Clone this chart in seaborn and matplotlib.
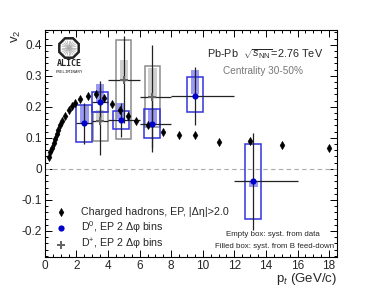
"""
D-meson v2 vs pt in Pb-Pb 30-50%, with charged hadron reference.
"""

import numpy as np
import pandas as pd
import matplotlib
matplotlib.use("Agg")
import matplotlib.pyplot as plt
import seaborn as sns
from matplotlib.patches import Rectangle, RegularPolygon
from matplotlib.ticker import MultipleLocator

# ── Data ──────────────────────────────────────────────────────────────────────
h_pt = [0.25, 0.35, 0.45, 0.55, 0.65, 0.75, 0.85, 0.95, 1.1, 1.3, 1.5, 1.7, 1.9,
        2.25, 2.75, 3.25, 3.75, 4.25, 4.75, 5.25, 5.75, 6.5, 7.5, 8.5, 9.5,
        11, 13, 15, 18]
h_v2 = [0.038, 0.053, 0.068, 0.083, 0.098, 0.113, 0.127, 0.14, 0.155, 0.172,
        0.19, 0.203, 0.213, 0.225, 0.236, 0.24, 0.228, 0.21, 0.19, 0.172,
        0.155, 0.14, 0.118, 0.109, 0.109, 0.088, 0.09, 0.077, 0.067]
h_err = [0.001] * 21 + [0.002, 0.003, 0.003, 0.004, 0.006, 0.007, 0.008, 0.009]

d0_pt = [2.5, 3.5, 4.8, 6.8, 9.5, 13.2]
d0_lo = [2, 3, 4, 6, 8, 12]
d0_hi = [3, 4, 6, 8, 12, 16]
d0_v2 = [0.147, 0.217, 0.158, 0.144, 0.236, -0.040]
d0_stat = [0.067, 0.065, 0.056, 0.09, 0.094, 0.157]
d0_sys_lo = [0.088, 0.185, 0.128, 0.099, 0.182, -0.160]
d0_sys_hi = [0.206, 0.247, 0.188, 0.194, 0.296, 0.081]
d0_fd_lo = [0.147, 0.213, 0.160, 0.144, 0.240, -0.057]
d0_fd_hi = [0.206, 0.274, 0.213, 0.194, 0.320, -0.039]

dp_pt = [3.5, 5.0, 6.8]
dp_lo = [3, 4, 6]
dp_hi = [4, 6, 8]
dp_v2 = [0.155, 0.287, 0.233]
dp_stat = [0.11, 0.14, 0.166]
dp_sys_lo = [0.091, 0.096, 0.135]
dp_sys_hi = [0.185, 0.416, 0.332]
dp_fd_lo = [0.155, 0.287, 0.233]
dp_fd_hi = [0.190, 0.352, 0.325]

hadrons = pd.DataFrame({"pt": h_pt, "v2": h_v2})
d0 = pd.DataFrame({"pt": d0_pt, "v2": d0_v2})
dplus = pd.DataFrame({"pt": dp_pt, "v2": dp_v2})

# ── Style ─────────────────────────────────────────────────────────────────────
sns.set_theme(style="ticks")
plt.rcParams["font.family"] = ["Liberation Sans", "DejaVu Sans"]
plt.rcParams["mathtext.fontset"] = "custom"
plt.rcParams["mathtext.rm"] = "Liberation Sans"
plt.rcParams["mathtext.it"] = "Liberation Sans:italic"

BLUE = "#0000cc"
BLUE_EDGE = "#3333dd"
BLUE_FILL = "#9a9af5"
GRAY = "#666666"
GRAY_EDGE = "#8c8c8c"
GRAY_FILL = "#cfcfcf"

fig = plt.figure(figsize=(3.74, 2.94), dpi=100)
ax = fig.add_axes([0.120, 0.126, 0.781, 0.772])

ax.axhline(0, color="#aaaaaa", lw=0.8, ls=(0, (4, 3)), zorder=1)


def boxes(x, lo, hi, half, **kw):
    for xi, l, h in zip(x, lo, hi):
        ax.add_patch(Rectangle((xi - half, l), 2 * half, h - l, **kw))


# filled boxes: syst. from B feed-down
boxes(dp_pt, dp_fd_lo, dp_fd_hi, 0.27, facecolor=GRAY_FILL, edgecolor="none", zorder=2)
boxes(d0_pt, d0_fd_lo, d0_fd_hi, 0.27, facecolor=BLUE_FILL, edgecolor="none", zorder=2)
# empty boxes: syst. from data
boxes(dp_pt, dp_sys_lo, dp_sys_hi, 0.48, facecolor="none", edgecolor=GRAY_EDGE, lw=1.1, zorder=3)
boxes(d0_pt, d0_sys_lo, d0_sys_hi, 0.5, facecolor="none", edgecolor=BLUE_EDGE, lw=1.1, zorder=3)

# stat error bars
ax.errorbar(dp_pt, dp_v2, yerr=dp_stat,
            xerr=[np.subtract(dp_pt, dp_lo), np.subtract(dp_hi, dp_pt)],
            fmt="none", ecolor="#222222", elinewidth=0.9, zorder=4)
ax.errorbar(d0_pt, d0_v2, yerr=d0_stat,
            xerr=[np.subtract(d0_pt, d0_lo), np.subtract(d0_hi, d0_pt)],
            fmt="none", ecolor="#222222", elinewidth=0.9, zorder=4)
ax.errorbar(h_pt, h_v2, yerr=h_err, fmt="none", ecolor="black", elinewidth=0.9, zorder=4)

sns.scatterplot(data=hadrons, x="pt", y="v2", marker="d", s=18, color="black",
                edgecolor="black", linewidth=0.3, ax=ax, zorder=5,
                label="Charged hadrons, EP, |Δη|>2.0")
sns.scatterplot(data=d0, x="pt", y="v2", marker="o", s=20, color=BLUE,
                edgecolor=BLUE, linewidth=0, ax=ax, zorder=6,
                label="D$^0$, EP 2 Δφ bins")
sns.scatterplot(data=dplus, x="pt", y="v2", marker="P", s=30, color=GRAY,
                edgecolor=GRAY, linewidth=0, ax=ax, zorder=6,
                label="D$^{+}$, EP 2 Δφ bins")

# ── Axes ──────────────────────────────────────────────────────────────────────
ax.set_xlim(0, 18.5)
ax.set_ylim(-0.284, 0.448)
ax.xaxis.set_major_locator(MultipleLocator(2))
ax.xaxis.set_minor_locator(MultipleLocator(0.5))
ax.yaxis.set_major_locator(MultipleLocator(0.1))
ax.yaxis.set_minor_locator(MultipleLocator(0.02))
ax.yaxis.set_major_formatter(matplotlib.ticker.FuncFormatter(
    lambda v, _: "0" if abs(v) < 1e-9 else f"{v:.1f}"))
ax.tick_params(which="both", direction="in", top=True, right=True,
               labelsize=8.5, pad=2, width=0.7, color="black")
ax.tick_params(which="major", length=5)
ax.tick_params(which="minor", length=2.5)
for s in ax.spines.values():
    s.set_linewidth(0.8)
    s.set_color("black")

ax.set_xlabel("p$_t$ (GeV/c)", fontsize=9.5, loc="right")
ax.xaxis.set_label_coords(1.0, -0.06)
ax.set_ylabel("v$_2$", fontsize=9.5, loc="top")
ax.yaxis.set_label_coords(-0.075, 1.0)

leg = ax.legend(loc="lower left", bbox_to_anchor=(0.005, 0.003), frameon=False,
                fontsize=7.7, handletextpad=0.8, labelspacing=0.2,
                markerscale=1.0, borderaxespad=0)

# ── Annotations ───────────────────────────────────────────────────────────────
ax.text(0.555, 0.895, "Pb-Pb  $\\sqrt{s_{\\rm NN}}$=2.76 TeV", transform=ax.transAxes,
        fontsize=7.8, va="center")
ax.text(0.61, 0.82, "Centrality 30-50%", transform=ax.transAxes,
        fontsize=7.2, color="#777777", va="center")
ax.text(0.94, 0.097, "Empty box: syst. from data", transform=ax.transAxes,
        fontsize=5.7, ha="right", va="center")
ax.text(0.99, 0.044, "Filled box: syst. from B feed-down", transform=ax.transAxes,
        fontsize=5.7, ha="right", va="center")

# ALICE logo
cx, cy = 0.69, 2.46
fig.add_artist(RegularPolygon((cx, cy), 8, radius=0.105, orientation=np.pi / 8,
                              facecolor="white", edgecolor="#222222", lw=1.8,
                              transform=fig.dpi_scale_trans))
for a in np.linspace(0, 2 * np.pi, 24, endpoint=False):
    fig.add_artist(plt.Line2D([cx, cx + 0.075 * np.cos(a)], [cy, cy + 0.075 * np.sin(a)],
                              color="#aaaaaa", lw=0.5, transform=fig.dpi_scale_trans))
fig.text(69 / 374, 1 - 64 / 294, "ALICE", fontsize=6, ha="center", va="center",
         family="DejaVu Sans Mono", fontweight="bold")
fig.text(69 / 374, 1 - 72 / 294, "PRELIMINARY", fontsize=3, ha="center", va="center",
         family="DejaVu Sans Mono")

fig.savefig("out.png", dpi=100)
